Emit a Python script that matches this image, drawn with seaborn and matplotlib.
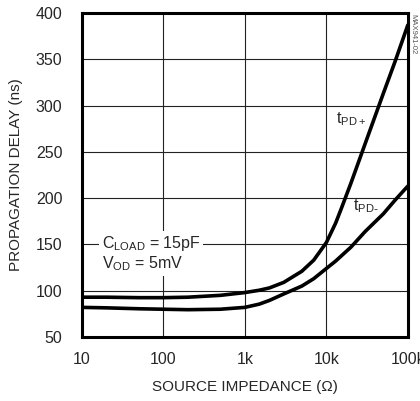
import matplotlib
matplotlib.use("Agg")
import matplotlib.pyplot as plt
import pandas as pd
import seaborn as sns

# source impedance (ohm) and propagation delay (ns)
impedance = [10, 20, 50, 100, 200, 500, 1000, 1500, 2000, 3000, 5000, 7000,
             10000, 13000, 15000, 20000, 30000, 50000, 70000, 100000]
tpd_plus = [93, 93, 92.5, 92.5, 93, 95, 98, 100.5, 103, 109, 121, 133,
            152, 173, 187, 216, 259, 313, 348, 387]
tpd_minus = [82, 81.5, 80.5, 80, 79.5, 80, 82, 85.5, 89.5, 96.5, 105, 113,
             124, 132, 137, 147, 164, 183, 198, 213]
x_ticks = [10, 100, 1000, 10000, 100000]
x_ticklabels = ["10", "100", "1k", "10k", "100k"]
y_ticks = [50, 100, 150, 200, 250, 300, 350, 400]

sns.set_style("white")
plt.rcParams['font.family'] = ['Liberation Sans', 'DejaVu Sans']
plt.rcParams['mathtext.default'] = 'regular'

df = pd.DataFrame({"R": impedance, "plus": tpd_plus, "minus": tpd_minus})

fig = plt.figure(figsize=(4.2, 4.01), dpi=100)
ax = fig.add_axes([0.195, 0.1596, 0.776, 0.808])

sns.lineplot(data=df, x="R", y="plus", ax=ax, color="black", lw=2.6)
sns.lineplot(data=df, x="R", y="minus", ax=ax, color="black", lw=2.6)

ax.set_xscale("log")
ax.set_xlim(10, 100000)
ax.set_ylim(50, 400)
ax.set_xticks(x_ticks)
ax.set_xticklabels(x_ticklabels)
ax.set_yticks(y_ticks)
ax.minorticks_off()
ax.tick_params(axis="x", length=0, pad=11, labelsize=11.5)
ax.tick_params(axis="y", length=0, pad=14, labelsize=11.5)
ax.grid(True, color="#222222", lw=0.8)
ax.set_axisbelow(True)
for s in ax.spines.values():
    s.set_linewidth(2.2)
    s.set_color("black")

ax.set_xlabel("SOURCE IMPEDANCE (\u03a9)", fontsize=11, labelpad=9)
ax.set_ylabel("PROPAGATION DELAY (ns)", fontsize=11, labelpad=9)

ax.text(0.061, 0.257, "C$_{LOAD}$ = 15pF\nV$_{OD}$ = 5mV", transform=ax.transAxes,
        fontsize=11.5, va="center", ha="left", linespacing=1.1,
        bbox=dict(facecolor="white", edgecolor="none", pad=2))
ax.text(0.78, 0.673, "t$_{PD+}$", transform=ax.transAxes, fontsize=11.5,
        ha="left", va="center")
ax.text(0.831, 0.404, "t$_{PD\\text{-}}$", transform=ax.transAxes, fontsize=11.5,
        ha="left", va="center")

fig.text(0.983, 0.965, "MAX941-02", rotation=270, fontsize=5.5, color="#555555",
         ha="center", va="top")

fig.savefig("out.png", dpi=100)
